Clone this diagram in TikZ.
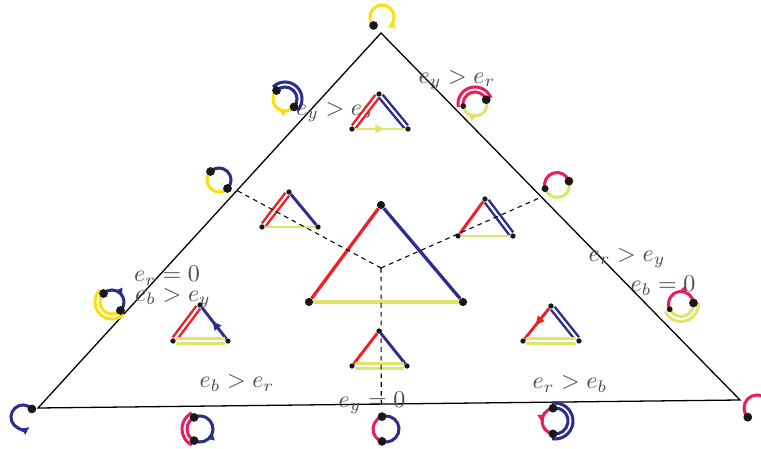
\documentclass[tikz,border=0pt]{standalone}
\usetikzlibrary{arrows.meta,calc,decorations.markings}
\definecolor{tred}{RGB}{236,32,39}
\definecolor{tblue}{RGB}{43,46,140}
\definecolor{tlime}{RGB}{222,228,108}
\definecolor{tpink}{RGB}{230,30,100}
\definecolor{tyel}{RGB}{252,222,18}
\begin{document}
\begin{tikzpicture}[x=0.03cm,y=0.03cm,>=Latex,
  blob/.style={circle,fill=black!90,inner sep=0pt,minimum size=#1},blob/.default=4.5pt,
  rln/.style={draw=tred,line width=2.5pt},
  bln/.style={draw=tblue,line width=2.5pt},
  yln/.style={draw=tlime,line width=2.5pt},
  twin/.style={line width=2.1pt,double=white,double distance=1.8pt},
  midarr/.style={postaction={decorate},decoration={markings,mark=at position #1 with {\arrow{Latex[length=7pt,width=7pt]}}}},
  triarr/.style={postaction={decorate},decoration={markings,mark=at position #1 with {\arrow{Latex[length=9pt,width=8pt]}}}},
  loopln/.style={line width=2.6pt},
  lbl/.style={text=black!70,scale=2.05,inner sep=0pt},
  dashln/.style={black,line width=0.9pt,dash pattern=on 4pt off 3.5pt}]
\path[use as bounding box] (0,0) rectangle (761,448);
\coordinate (T) at (381,415);
\coordinate (BL) at (38,40);
\coordinate (BR) at (740,48);
\coordinate (O) at (381,180);
\coordinate (pl) at ($(T)!0.42!(BL)$);
\coordinate (pr) at ($(T)!0.447!(BR)$);
\coordinate (pb) at ($(BL)!0.489!(BR)$);
\draw[line width=1.1pt] (T) -- (BL) -- (BR) -- cycle;
\node[lbl] (l1) at (457,368) {$e_y > e_r$};
\node[lbl] (l2) at (334,336) {$e_y > e_b$};
\node[lbl] (l3) at (167,172) {$e_r = 0$};
\node[lbl] (l4) at (173,150) {$e_b > e_y$};
\node[lbl] (l5) at (627,190) {$e_r > e_y$};
\node[lbl] (l6) at (663,162) {$e_b = 0$};
\node[lbl] (l7) at (237,65) {$e_b > e_r$};
\node[lbl] (l8) at (570,64) {$e_r > e_b$};
\node[lbl] (l9) at (372,45) {$e_y = 0$};
\node[blob=7pt] (cA) at (381,243) {};
\node[blob=7pt] (cL) at (309,146) {};
\node[blob=7pt] (cR) at (463,146) {};
\draw[rln,line width=2.8pt] (cL) -- (cA);
\draw[bln,line width=2.8pt] (cA) -- (cR);
\draw[yln,line width=2.8pt] (cL) -- (cR);
\node[blob] (tTa) at (379,354) {};
\node[blob] (tTl) at (352,319) {};
\node[blob] (tTr) at (408,319) {};
\draw[rln,twin] (tTl) -- (tTa);
\draw[bln,twin] (tTa) -- (tTr);
\draw[yln,triarr=0.62] (tTl) -- (tTr);
\node[blob] (tLa) at (289,256) {};
\node[blob] (tLl) at (262,221) {};
\node[blob] (tLr) at (318,221) {};
\draw[rln,twin] (tLl) -- (tLa);
\draw[bln] (tLa) -- (tLr);
\draw[yln] (tLl) -- (tLr);
\node[blob] (tRa) at (485,249) {};
\node[blob] (tRl) at (458,212) {};
\node[blob] (tRr) at (513,212) {};
\draw[rln] (tRl) -- (tRa);
\draw[bln,twin] (tRa) -- (tRr);
\draw[yln] (tRl) -- (tRr);
\node[blob] (tPa) at (200,143) {};
\node[blob] (tPl) at (173,107) {};
\node[blob] (tPr) at (228,107) {};
\draw[rln,twin] (tPl) -- (tPa);
\draw[bln,triarr=0.6] (tPr) -- (tPa);
\draw[yln,twin] (tPl) -- (tPr);
\node[blob] (tQa) at (551,142) {};
\node[blob] (tQl) at (523,107) {};
\node[blob] (tQr) at (579,107) {};
\draw[rln,triarr=0.6] (tQa) -- (tQl);
\draw[bln,twin] (tQa) -- (tQr);
\draw[yln,twin] (tQl) -- (tQr);
\node[blob] (tBa) at (379,117) {};
\node[blob] (tBl) at (352,82) {};
\node[blob] (tBr) at (407,82) {};
\draw[rln] (tBl) -- (tBa);
\draw[bln] (tBa) -- (tBr);
\draw[yln,twin] (tBl) -- (tBr);
\draw[dashln] (O) -- (pl);
\draw[dashln] (O) -- (pr);
\draw[dashln] (O) -- (pb);
\coordinate (k1) at (382,431);
\draw[tyel,loopln,-{Latex[length=7pt,width=7pt]}] ([shift={(225:12)}]k1) arc[start angle=225,end angle=-65,radius=12];
\node[blob=7.5pt] (k1a) at ([shift={(225:12)}]k1) {};
\coordinate (k2) at (285,349);
\draw[tblue,loopln] ([shift={(135:12)}]k2) arc[start angle=135,end angle=-41,radius=12];
\draw[tblue,loopln] ([shift={(135:17)}]k2) arc[start angle=135,end angle=-41,radius=17];
\draw[tyel,loopln,midarr=0.45] ([shift={(-41:12)}]k2) arc[start angle=-41,end angle=-225,radius=12];
\node[blob=7.5pt] (k2a) at ([shift={(135:12)}]k2) {};
\node[blob=7.5pt] (k2b) at ([shift={(-41:12)}]k2) {};
\coordinate (k3) at (219,268);
\draw[tblue,loopln] ([shift={(135:12)}]k3) arc[start angle=135,end angle=-45,radius=12];
\draw[tyel,loopln] ([shift={(-45:12)}]k3) arc[start angle=-45,end angle=-225,radius=12];
\node[blob=7.5pt] (k3a) at ([shift={(135:12)}]k3) {};
\node[blob=7.5pt] (k3b) at ([shift={(-45:12)}]k3) {};
\coordinate (k4) at (112,146);
\draw[tblue,loopln,midarr=0.6] ([shift={(135:12)}]k4) arc[start angle=135,end angle=-45,radius=12];
\draw[tyel,loopln] ([shift={(-45:12)}]k4) arc[start angle=-45,end angle=-225,radius=12];
\draw[tyel,loopln] ([shift={(-45:17)}]k4) arc[start angle=-45,end angle=-225,radius=17];
\node[blob=7.5pt] (k4a) at ([shift={(135:12)}]k4) {};
\node[blob=7.5pt] (k4b) at ([shift={(-45:12)}]k4) {};
\coordinate (k5) at (23,31);
\draw[tblue,loopln,-{Latex[length=7pt,width=7pt]}] ([shift={(42:12)}]k5) arc[start angle=42,end angle=305,radius=12];
\node[blob=7.5pt] (k5a) at ([shift={(42:12)}]k5) {};
\coordinate (k6) at (200,19);
\draw[tpink,loopln] ([shift={(117:13)}]k6) arc[start angle=117,end angle=243,radius=13];
\draw[tpink,loopln] ([shift={(117:18)}]k6) arc[start angle=117,end angle=243,radius=18];
\draw[tblue,loopln,midarr=0.45] ([shift={(243:13)}]k6) arc[start angle=243,end angle=477,radius=13];
\node[blob=7.5pt] (k6a) at ([shift={(117:13)}]k6) {};
\node[blob=7.5pt] (k6b) at ([shift={(243:13)}]k6) {};
\coordinate (k7) at (386,19);
\draw[tpink,loopln] ([shift={(108:13)}]k7) arc[start angle=108,end angle=252,radius=13];
\draw[tblue,loopln] ([shift={(252:13)}]k7) arc[start angle=252,end angle=468,radius=13];
\node[blob=7.5pt] (k7a) at ([shift={(108:13)}]k7) {};
\node[blob=7.5pt] (k7b) at ([shift={(252:13)}]k7) {};
\coordinate (k8) at (555,27);
\draw[tblue,loopln] ([shift={(261:13)}]k8) arc[start angle=261,end angle=459,radius=13];
\draw[tblue,loopln] ([shift={(261:18)}]k8) arc[start angle=261,end angle=459,radius=18];
\draw[tpink,loopln,midarr=0.55] ([shift={(99:13)}]k8) arc[start angle=99,end angle=261,radius=13];
\node[blob=7.5pt] (k8a) at ([shift={(99:13)}]k8) {};
\node[blob=7.5pt] (k8b) at ([shift={(261:13)}]k8) {};
\coordinate (k9) at (757,40);
\draw[tpink,loopln,-{Latex[length=7pt,width=7pt]}] ([shift={(225:13)}]k9) arc[start angle=225,end angle=-65,radius=13];
\node[blob=7.5pt] (k9a) at ([shift={(225:13)}]k9) {};
\coordinate (k10) at (681,144);
\draw[tpink,loopln,midarr=0.5] ([shift={(5:12.5)}]k10) arc[start angle=5,end angle=205,radius=12.5];
\draw[tlime,loopln] ([shift={(205:12.5)}]k10) arc[start angle=205,end angle=365,radius=12.5];
\draw[tlime,loopln] ([shift={(205:17.5)}]k10) arc[start angle=205,end angle=365,radius=17.5];
\node[blob=7.5pt] (k10a) at ([shift={(5:12.5)}]k10) {};
\node[blob=5pt] (k10b) at ([shift={(205:12.5)}]k10) {};
\coordinate (k11) at (557,263);
\draw[tpink,loopln] ([shift={(18:12.5)}]k11) arc[start angle=18,end angle=197,radius=12.5];
\draw[tlime,loopln] ([shift={(197:12.5)}]k11) arc[start angle=197,end angle=378,radius=12.5];
\node[blob=7.5pt] (k11a) at ([shift={(18:12.5)}]k11) {};
\node[blob=6pt] (k11b) at ([shift={(197:12.5)}]k11) {};
\coordinate (k12) at (475,344);
\draw[tpink,loopln] ([shift={(21:12)}]k12) arc[start angle=21,end angle=190,radius=12];
\draw[tpink,loopln] ([shift={(21:17)}]k12) arc[start angle=21,end angle=190,radius=17];
\draw[tlime,loopln,midarr=0.5] ([shift={(190:12)}]k12) arc[start angle=190,end angle=381,radius=12];
\node[blob=7.5pt] (k12a) at ([shift={(21:12)}]k12) {};
\node[blob=5pt] (k12b) at ([shift={(190:12)}]k12) {};
\end{tikzpicture}
\end{document}
